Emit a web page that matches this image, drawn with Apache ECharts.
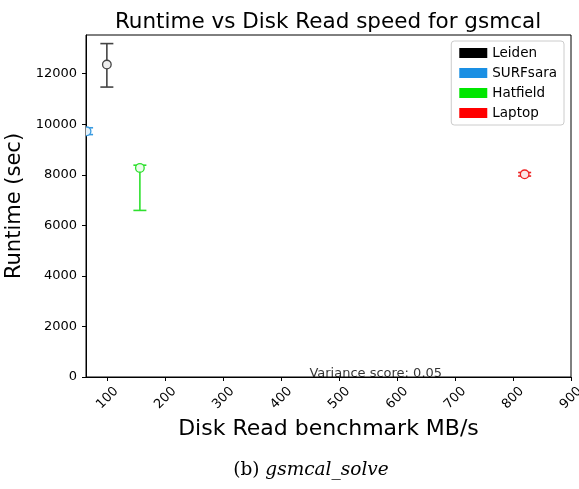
<!DOCTYPE html>
<html>
<head>
<meta charset="utf-8">
<script src="https://cdn.jsdelivr.net/npm/echarts@6/dist/echarts.min.js"></script>
<style>
  html, body { margin: 0; padding: 0; background: #fff; }
  #chart { width: 579px; height: 489px; }
</style>
</head>
<body>
<div id="chart"></div>
<script>
// values
const platforms = ['Leiden', 'SURFsara', 'Hatfield', 'Laptop']
const diskRead = [99, 64, 156, 820]
const runtimeMean = [12360, 9720, 8270, 8020]
const runtimeLow = [11470, 9590, 6590, 7950]
const runtimeHigh = [13190, 9860, 8380, 8090]
const legendColors = ['#000000', '#1a8fe3', '#00e600', '#ff0000']
const barColors = ['#444444', '#3a9be0', '#2ee02e', '#ee2222']
const fillColors = ['#eeeeee', '#e2f1fb', '#ecfcec', '#fce6e6']
const xTicks = [100, 200, 300, 400, 500, 600, 700, 800, 900]
const yTicks = [0, 2000, 4000, 6000, 8000, 10000, 12000]
const varianceNote = { x: 563, y: 0, text: 'Variance score: 0.05' }

const font = 'DejaVu Sans'
const chart = echarts.init(document.getElementById('chart'))

function errorBar(i) {
  return function (params, api) {
    const c = api.coord([api.value(0), api.value(1)])
    const lo = api.coord([api.value(0), api.value(2)])
    const hi = api.coord([api.value(0), api.value(3)])
    const cap = 6.5
    const r = 4.3
    const stroke = { stroke: barColors[i], lineWidth: 1.6 }
    return {
      type: 'group',
      children: [
        { type: 'line', shape: { x1: c[0], y1: lo[1], x2: c[0], y2: hi[1] }, style: stroke },
        { type: 'line', shape: { x1: c[0] - cap, y1: lo[1], x2: c[0] + cap, y2: lo[1] }, style: stroke },
        { type: 'line', shape: { x1: c[0] - cap, y1: hi[1], x2: c[0] + cap, y2: hi[1] }, style: stroke },
        {
          type: 'circle',
          shape: { cx: c[0], cy: c[1], r: r },
          style: { fill: fillColors[i], stroke: barColors[i], lineWidth: 1.3 }
        }
      ]
    }
  }
}

const series = platforms.map((name, i) => ({
  name: name,
  type: 'custom',
  clip: true,
  itemStyle: { color: legendColors[i] },
  data: [[diskRead[i], runtimeMean[i], runtimeLow[i], runtimeHigh[i]]],
  renderItem: errorBar(i)
}))

series.push({
  type: 'scatter',
  symbolSize: 0,
  silent: true,
  data: [[varianceNote.x, varianceNote.y]],
  label: {
    show: true,
    position: 'inside',
    formatter: varianceNote.text,
    color: '#000',
    fontFamily: font,
    fontSize: 13,
    verticalAlign: 'bottom',
    align: 'center',
    offset: [0, 3]
  }
})

chart.setOption({
  animation: false,
  backgroundColor: '#fff',
  textStyle: { fontFamily: font },
  title: [
    {
      text: 'Runtime vs Disk Read speed for gsmcal',
      left: 323,
      top: 6,
      textAlign: 'center',
      textStyle: { fontFamily: font, fontSize: 21.5, fontWeight: 'normal', color: '#000' }
    },
    {
      text: '{n|(b)} {i|gsmcal_solve}',
      left: 306,
      top: 456,
      textAlign: 'center',
      textStyle: {
        fontWeight: 'normal',
        rich: {
          n: { fontFamily: 'DejaVu Serif', fontWeight: 'normal', fontSize: 18.5, color: '#000' },
          i: { fontFamily: 'DejaVu Serif', fontWeight: 'normal', fontStyle: 'italic', fontSize: 18.5, color: '#000' }
        }
      }
    }
  ],
  legend: {
    orient: 'vertical',
    right: 15,
    top: 41,
    padding: [5, 7, 5, 8],
    itemGap: 6,
    itemWidth: 28,
    itemHeight: 10,
    icon: 'rect',
    borderColor: '#cccccc',
    borderWidth: 1,
    borderRadius: 3,
    backgroundColor: '#fff',
    data: platforms,
    textStyle: { fontFamily: font, fontSize: 13.5, color: '#000' }
  },
  grid: {
    left: 86,
    right: 8,
    top: 35,
    bottom: 112,
    show: true,
    borderColor: '#000',
    borderWidth: 1,
    containLabel: false,
    outerBoundsMode: 'none'
  },
  xAxis: {
    type: 'value',
    min: 63,
    max: 900,
    name: 'Disk Read benchmark MB/s',
    nameLocation: 'middle',
    nameGap: 40,
    nameTextStyle: { fontFamily: font, fontSize: 22, color: '#000' },
    axisLine: { show: true, onZero: false, lineStyle: { color: '#000', width: 1 } },
    axisTick: { show: true, length: 4, customValues: xTicks, lineStyle: { color: '#000' } },
    axisLabel: {
      customValues: xTicks,
      rotate: 45,
      color: '#000',
      fontFamily: font,
      fontSize: 13,
      align: 'center',
      verticalAlign: 'middle',
      margin: 21,
      formatter: (v) => String(v)
    },
    splitLine: { show: false }
  },
  yAxis: {
    type: 'value',
    min: 0,
    max: 13530,
    name: 'Runtime (sec)',
    nameLocation: 'middle',
    nameGap: 58,
    nameTextStyle: { fontFamily: font, fontSize: 21, color: '#000' },
    axisLine: { show: true, lineStyle: { color: '#000', width: 1 } },
    axisTick: { show: true, length: 4, customValues: yTicks, lineStyle: { color: '#000' } },
    axisLabel: {
      customValues: yTicks,
      color: '#000',
      fontFamily: font,
      fontSize: 13,
      margin: 9,
      formatter: (v) => String(v)
    },
    splitLine: { show: false }
  },
  series: series
})
</script>
</body>
</html>
